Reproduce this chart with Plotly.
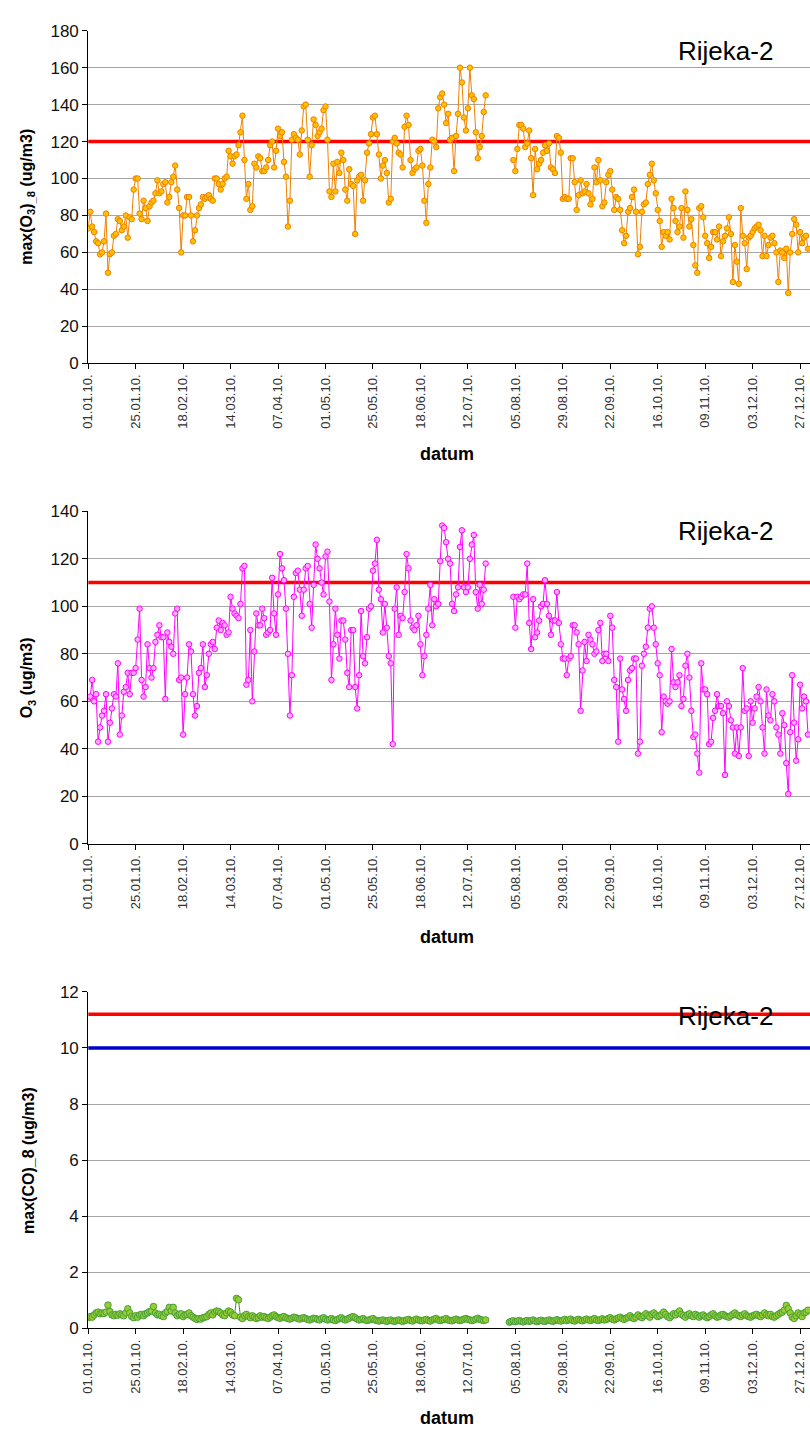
import plotly.graph_objects as go
import pandas as pd

W, H = 810, 1441

# ---------------- data ----------------
start_date = "2010-01-01"
n_days = 365

tick_labels = ["01.01.10.", "25.01.10.", "18.02.10.", "14.03.10.", "07.04.10.", "01.05.10.",
               "25.05.10.", "18.06.10.", "12.07.10.", "05.08.10.", "29.08.10.", "22.09.10.",
               "16.10.10.", "09.11.10.", "03.12.10.", "27.12.10."]

# max(O3)_8, days 0-201, gap 202-214, days 215-364
o3max_part1 = [
    73, 82, 74, 71, 66, 65, 59, 60, 66, 81,
    49, 59, 60, 69, 70, 78, 77, 72, 74, 80,
    68, 79, 78, 94, 100, 100, 81, 78, 88, 84,
    77, 85, 87, 88, 92, 99, 92, 93, 97, 98,
    87, 90, 98, 101, 107, 94, 84, 60, 80, 80,
    90, 90, 80, 66, 72, 80, 84, 86, 90, 89,
    90, 91, 89, 88, 100, 100, 97, 94, 97, 100,
    101, 115, 112, 108, 112, 113, 118, 125, 134, 110,
    89, 97, 83, 85, 108, 106, 112, 111, 104, 104,
    106, 110, 118, 120, 106, 115, 127, 123, 125, 109,
    101, 74, 88, 121, 124, 122, 121, 113, 126, 139,
    140, 121, 101, 118, 132, 129, 123, 125, 127, 137,
    139, 121, 93, 90, 108, 93, 109, 103, 114, 110,
    94, 88, 105, 97, 96, 70, 99, 101, 102, 88,
    99, 114, 119, 124, 133, 134, 124, 113, 100, 107,
    110, 103, 87, 89, 120, 122, 119, 114, 113, 106,
    128, 134, 129, 110, 103, 105, 106, 115, 116, 107,
    88, 76, 97, 106, 121, 120, 117, 138, 144, 146,
    140, 130, 135, 121, 122, 104, 123, 135, 160, 152,
    133, 126, 138, 160, 145, 143, 125, 111, 117, 123,
    136, 145,
]
o3max_gap = 13
o3max_part2 = [
    110, 104, 116, 129, 129, 127, 117, 119, 126, 111,
    91, 116, 105, 108, 110, 114, 118, 115, 119, 106,
    105, 103, 123, 122, 114, 89, 90, 89, 89, 111,
    111, 98, 83, 91, 99, 92, 93, 97, 92, 86,
    89, 106, 98, 110, 99, 85, 87, 98, 102, 104,
    94, 83, 90, 89, 83, 72, 65, 69, 82, 84,
    90, 94, 82, 59, 63, 82, 86, 87, 97, 102,
    108, 99, 92, 83, 77, 63, 71, 69, 71, 67,
    89, 84, 77, 71, 74, 84, 68, 93, 83, 74,
    78, 64, 53, 49, 84, 85, 79, 69, 65, 57,
    63, 71, 71, 67, 74, 58, 66, 69, 73, 79,
    70, 44, 64, 55, 43, 84, 69, 65, 51, 68,
    69, 71, 73, 74, 75, 72, 58, 69, 58, 64,
    68, 69, 65, 60, 44, 61, 60, 57, 62, 38,
    60, 70, 78, 75, 60, 71, 65, 68, 69, 62,
]

# O3 daily values
o3_part1 = [
    61, 62, 69, 60, 63, 43, 49, 54, 56, 63,
    43, 51, 57, 63, 62, 76, 46, 54, 64, 66,
    72, 63, 72, 72, 74, 86, 99, 69, 62, 66,
    84, 74, 70, 74, 85, 88, 92, 87, 87, 61,
    89, 85, 83, 80, 97, 99, 69, 70, 46, 63,
    70, 84, 81, 63, 54, 58, 72, 74, 84, 66,
    71, 80, 84, 85, 82, 91, 94, 90, 93, 92,
    88, 89, 104, 99, 97, 96, 95, 101, 116, 117,
    67, 69, 90, 60, 81, 97, 92, 92, 99, 95,
    88, 89, 90, 112, 97, 88, 105, 122, 116, 111,
    99, 80, 54, 71, 104, 114, 115, 107, 96, 107,
    116, 117, 101, 91, 109, 126, 120, 116, 110, 105,
    121, 123, 102, 69, 84, 99, 88, 78, 94, 94,
    86, 72, 66, 90, 90, 66, 57, 71, 98, 79,
    76, 87, 99, 100, 115, 118, 128, 107, 103, 89,
    101, 91, 79, 76, 42, 99, 108, 88, 96, 95,
    106, 122, 116, 94, 91, 90, 92, 96, 84, 71,
    79, 88, 99, 109, 92, 103, 100, 101, 119, 134,
    133, 127, 120, 118, 101, 98, 105, 108, 125, 132,
    108, 106, 108, 120, 126, 130, 106, 99, 109, 101,
    107, 118,
]
o3_gap = 13
o3_part2 = [
    104, 91, 104, 103, 104, 105, 105, 118, 93, 82,
    103, 87, 89, 94, 100, 101, 111, 101, 96, 88,
    94, 94, 106, 93, 84, 78, 78, 71, 78, 79,
    92, 92, 89, 84, 56, 73, 85, 77, 88, 86,
    84, 80, 81, 90, 93, 77, 80, 80, 77, 96,
    91, 69, 66, 43, 78, 65, 61, 56, 69, 73,
    74, 78, 78, 38, 43, 75, 80, 83, 91, 99,
    100, 91, 84, 76, 71, 47, 62, 60, 59, 60,
    82, 68, 66, 68, 71, 58, 61, 75, 80, 70,
    56, 45, 46, 38, 30, 76, 65, 65, 63, 42,
    43, 53, 56, 63, 58, 58, 55, 29, 60, 58,
    52, 49, 38, 49, 37, 49, 74, 56, 57, 37,
    60, 51, 57, 62, 66, 60, 49, 38, 65, 54,
    52, 63, 60, 49, 46, 38, 55, 50, 34, 21,
    47, 71, 51, 35, 44, 67, 57, 62, 60, 46,
]

# max(CO)_8, days 0-201, gap 202-212, days 213-364
co_part1 = [
    0.38, 0.42, 0.40, 0.48, 0.55, 0.58, 0.52, 0.55, 0.53, 0.58,
    0.83, 0.60, 0.48, 0.45, 0.50, 0.47, 0.52, 0.48, 0.45, 0.55,
    0.70, 0.55, 0.42, 0.38, 0.45, 0.40, 0.48, 0.50, 0.45, 0.52,
    0.55, 0.60, 0.62, 0.78, 0.55, 0.48, 0.50, 0.45, 0.42, 0.55,
    0.60, 0.75, 0.62, 0.75, 0.55, 0.45, 0.50, 0.52, 0.42, 0.48,
    0.50, 0.55, 0.45, 0.40, 0.35, 0.32, 0.35, 0.33, 0.38, 0.40,
    0.42, 0.50, 0.55, 0.48, 0.58, 0.62, 0.60, 0.55, 0.48, 0.45,
    0.55, 0.62, 0.58, 0.48, 0.45, 1.07, 1.02, 0.40, 0.35, 0.45,
    0.50, 0.42, 0.38, 0.45, 0.40, 0.35, 0.38, 0.45, 0.40, 0.42,
    0.38, 0.35, 0.40, 0.45, 0.48, 0.42, 0.38, 0.36, 0.40, 0.42,
    0.38, 0.35, 0.33, 0.36, 0.40, 0.38, 0.35, 0.33, 0.36, 0.38,
    0.35, 0.32, 0.30, 0.33, 0.36, 0.35, 0.32, 0.30, 0.35, 0.38,
    0.33, 0.30, 0.32, 0.35, 0.30, 0.28, 0.32, 0.35, 0.38, 0.33,
    0.30, 0.33, 0.36, 0.40, 0.42, 0.38, 0.33, 0.30, 0.32, 0.35,
    0.30, 0.28, 0.30, 0.32, 0.35, 0.30, 0.28, 0.26, 0.28, 0.30,
    0.27, 0.25, 0.28, 0.30, 0.26, 0.25, 0.28, 0.30, 0.27, 0.25,
    0.28, 0.30, 0.32, 0.28, 0.26, 0.30, 0.33, 0.30, 0.28, 0.27,
    0.30, 0.32, 0.28, 0.26, 0.30, 0.33, 0.35, 0.30, 0.28, 0.30,
    0.32, 0.35, 0.30, 0.28, 0.27, 0.30, 0.33, 0.30, 0.28, 0.30,
    0.33, 0.35, 0.32, 0.30, 0.28, 0.30, 0.33, 0.36, 0.32, 0.30,
    0.28, 0.30,
]
co_gap = 11
co_part2 = [
    0.22, 0.25, 0.27, 0.24, 0.26, 0.28, 0.25, 0.23, 0.26, 0.28,
    0.25, 0.27, 0.30, 0.26, 0.24, 0.27, 0.29, 0.26, 0.25, 0.28,
    0.30, 0.27, 0.25, 0.28, 0.31, 0.28, 0.26, 0.29, 0.32, 0.28,
    0.30, 0.33, 0.28, 0.26, 0.30, 0.32, 0.29, 0.27, 0.30, 0.33,
    0.30, 0.28, 0.32, 0.35, 0.30, 0.28, 0.31, 0.34, 0.30, 0.32,
    0.35, 0.38, 0.33, 0.30, 0.34, 0.37, 0.40, 0.35, 0.32, 0.36,
    0.40, 0.45, 0.38, 0.35, 0.40, 0.48, 0.42, 0.38, 0.45, 0.52,
    0.45, 0.40, 0.50, 0.55, 0.48, 0.42, 0.45, 0.50, 0.58, 0.50,
    0.42, 0.38, 0.45, 0.52, 0.48, 0.55, 0.62, 0.50, 0.45, 0.40,
    0.48, 0.52, 0.45, 0.42, 0.50, 0.45, 0.40, 0.45, 0.48, 0.42,
    0.38, 0.42, 0.48, 0.52, 0.45, 0.40, 0.42, 0.48, 0.50, 0.45,
    0.42, 0.40, 0.45, 0.50, 0.55, 0.48, 0.45, 0.42, 0.48, 0.52,
    0.45, 0.42, 0.40, 0.45, 0.48, 0.50, 0.45, 0.42, 0.48, 0.55,
    0.48, 0.45, 0.50, 0.42, 0.40, 0.45, 0.50, 0.55, 0.58, 0.65,
    0.82, 0.70, 0.55, 0.40, 0.35, 0.45, 0.55, 0.48, 0.42, 0.55,
    0.58, 0.65,
]

o3max_limit = 120
o3_limit = 110
co_limit_red = 11.2
co_limit_blue = 10
station = "Rijeka-2"

# ---------------- build ----------------
dates = pd.date_range(start_date, periods=n_days, freq="D")
o3max = o3max_part1 + [None] * o3max_gap + o3max_part2
o3 = o3_part1 + [None] * o3_gap + o3_part2
co = co_part1 + [None] * co_gap + co_part2
for s in (o3max, o3, co):
    s += [None] * (n_days - len(s))
    del s[n_days:]

tick_dates = [pd.Timestamp(start_date) + pd.Timedelta(days=24 * i) for i in range(len(tick_labels))]
x_end = pd.Timestamp(start_date) + pd.Timedelta(days=n_days)


def py(ypx):
    return 1 - ypx / H


def pxx(xpx):
    return xpx / W


panels = [
    dict(y=o3max, top=22, bot=359, rng=[0, 180], dtick=20,
         line="#F08000", fill="#FFC000", edge="#F08000", msize=5.5,
         title="<b>max(O<sub>3</sub>)<sub>_8</sub> (ug/m3)</b>",
         limits=[(o3max_limit, "#FF0000")], datum_y=451, station_y=43),
    dict(y=o3, top=509, bot=846, rng=[0, 140], dtick=20,
         line="#FF00FF", fill="#FFA8FF", edge="#FF00FF", msize=5.5,
         title="<b>O<sub>3</sub> (ug/m3)</b>",
         limits=[(o3_limit, "#FF0000")], datum_y=940, station_y=529),
    dict(y=co, top=996, bot=1337, rng=[0, 12], dtick=2,
         line="#339933", fill="#99CC33", edge="#44A03A", msize=6.5,
         title="<b>max(CO)_8 (ug/m3)</b>",
         limits=[(co_limit_red, "#FF0000"), (co_limit_blue, "#0000CC")], datum_y=1428, station_y=1020),
]

fig = go.Figure()
annotations = []
x0px, x1px = 81, 810

for i, p in enumerate(panels, start=1):
    xa = "x" if i == 1 else f"x{i}"
    ya = "y" if i == 1 else f"y{i}"
    for val, col in p["limits"]:
        fig.add_trace(go.Scatter(x=[dates[0], x_end], y=[val, val], mode="lines",
                                 line=dict(color=col, width=3.5), xaxis=xa, yaxis=ya,
                                 hoverinfo="skip", showlegend=False))
    fig.add_trace(go.Scatter(x=dates, y=p["y"], mode="lines+markers",
                             line=dict(color=p["line"], width=1),
                             marker=dict(symbol="circle", size=p["msize"], color=p["fill"],
                                         line=dict(color=p["edge"], width=1)),
                             xaxis=xa, yaxis=ya, showlegend=False, connectgaps=False))
    key = "" if i == 1 else str(i)
    fig.update_layout(**{
        f"xaxis{key}": dict(domain=[pxx(x0px), pxx(x1px)], anchor=ya,
                            range=[pd.Timestamp(start_date), x_end], type="date",
                            tickmode="array", tickvals=tick_dates, ticktext=tick_labels,
                            tickangle=-90, ticks="outside", ticklen=5, tickcolor="#000",
                            showline=True, linecolor="#000", linewidth=1, showgrid=False,
                            zeroline=False,
                            tickfont=dict(family="Liberation Sans, Arial", size=13, color="#333")),
        f"yaxis{key}": dict(domain=[py(p["bot"]), py(p["top"])], anchor=xa,
                            range=p["rng"], dtick=p["dtick"], tick0=0,
                            ticks="outside", ticklen=5, tickcolor="#000",
                            showline=True, linecolor="#000", linewidth=1,
                            showgrid=True, gridcolor="#A6A6A6", gridwidth=1, zeroline=False,
                            tickfont=dict(family="Liberation Sans, Arial", size=17, color="#111")),
    })
    annotations.append(dict(text=p["title"], x=pxx(20), y=py((p["top"] + p["bot"]) / 2),
                            xref="paper", yref="paper", textangle=-90, showarrow=False,
                            xanchor="center", yanchor="middle",
                            font=dict(family="Liberation Sans, Arial", size=16, color="#000")))
    annotations.append(dict(text="<b>datum</b>", x=pxx(443), y=py(p["datum_y"]),
                            xref="paper", yref="paper", showarrow=False,
                            xanchor="center", yanchor="middle",
                            font=dict(family="Liberation Sans, Arial", size=18, color="#000")))
    annotations.append(dict(text=station, x=pxx(675), y=py(p["station_y"]),
                            xref="paper", yref="paper", showarrow=False,
                            xanchor="left", yanchor="middle",
                            font=dict(family="Liberation Sans, Arial", size=26, color="#000")))

fig.update_layout(width=W, height=H, margin=dict(l=0, r=0, t=0, b=0),
                  paper_bgcolor="white", plot_bgcolor="white",
                  annotations=annotations, showlegend=False)

fig.write_html("out.html")
